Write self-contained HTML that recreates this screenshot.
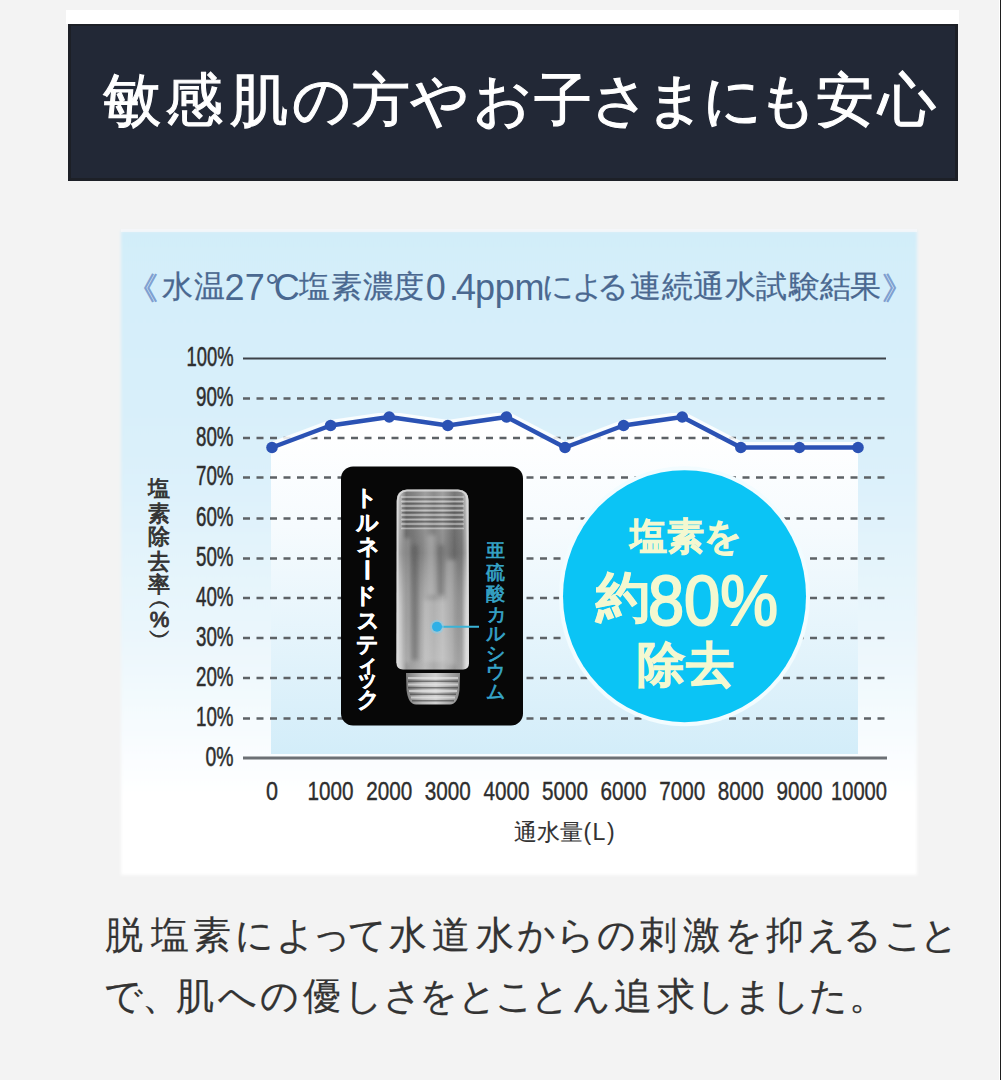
<!DOCTYPE html>
<html lang="ja">
<head>
<meta charset="utf-8">
<style>
html,body{margin:0;padding:0;}
body{width:1001px;height:1080px;overflow:hidden;background:#f3f3f3;position:relative;font-family:"Liberation Sans",sans-serif;}
.abs{position:absolute;}
#edge{left:999px;top:0;width:1px;height:1080px;background:#fff;}
#edge2{left:1000px;top:0;width:1px;height:1080px;background:#1e1e1e;}
#strip{left:66px;top:10px;width:893px;height:14px;background:#fff;}
#banner{left:68px;top:24px;width:890px;height:157px;background:#222836;box-shadow:inset 3px 0 0 #1c1f26,inset -3px 0 0 #1c1f26,inset 0 -3px 0 #1d2027,inset 0 2px 0 #1d2027;}
.run{position:absolute;left:0;top:0;width:0;height:0;}
.run span{position:absolute;white-space:nowrap;}
</style>
</head>
<body>
<div class="abs" id="edge"></div>
<div class="abs" id="edge2"></div>
<div class="abs" id="strip"></div>
<div class="abs" id="banner"></div>
<div class="run" style="font-size:58px;line-height:58px;color:#ffffff;font-weight:normal;-webkit-text-stroke:1.1px #ffffff;"><span style="left:102.7px;top:70.7px">敏</span><span style="left:165.4px;top:70.7px">感</span><span style="left:230.2px;top:70.7px">肌</span><span style="left:291.9px;top:70.7px">の</span><span style="left:351.6px;top:70.7px">方</span><span style="left:410.1px;top:70.7px">や</span><span style="left:472.9px;top:70.7px">お</span><span style="left:533.8px;top:70.7px">子</span><span style="left:591.0px;top:70.7px">さ</span><span style="left:645.9px;top:70.7px">ま</span><span style="left:702.6px;top:70.7px">に</span><span style="left:758.3px;top:70.7px">も</span><span style="left:815.6px;top:70.7px">安</span><span style="left:877.6px;top:70.7px">心</span></div>

<svg class="abs" style="left:0;top:0" width="1001" height="1080" viewBox="0 0 1001 1080">
<defs>
<linearGradient id="gbg" x1="0" y1="229" x2="0" y2="875" gradientUnits="userSpaceOnUse">
<stop offset="0" stop-color="#d2edf9"/>
<stop offset="0.35" stop-color="#daf0fa"/>
<stop offset="0.62" stop-color="#eaf6fc"/>
<stop offset="0.88" stop-color="#ffffff"/>
<stop offset="1" stop-color="#ffffff"/>
</linearGradient>
<linearGradient id="gplot" x1="0" y1="430" x2="0" y2="753" gradientUnits="userSpaceOnUse">
<stop offset="0" stop-color="#ffffff"/>
<stop offset="0.3" stop-color="#f6fbfe"/>
<stop offset="1" stop-color="#d3edf9"/>
</linearGradient>
<linearGradient id="gcyl" x1="396" y1="0" x2="469" y2="0" gradientUnits="userSpaceOnUse">
<stop offset="0" stop-color="#dadada"/>
<stop offset="0.07" stop-color="#bdbdbd"/>
<stop offset="0.14" stop-color="#7e7e7e"/>
<stop offset="0.26" stop-color="#8e8e8e"/>
<stop offset="0.4" stop-color="#a8a8a8"/>
<stop offset="0.52" stop-color="#959595"/>
<stop offset="0.64" stop-color="#aaaaaa"/>
<stop offset="0.8" stop-color="#7e7e7e"/>
<stop offset="0.9" stop-color="#909090"/>
<stop offset="0.96" stop-color="#d0d0d0"/>
<stop offset="1" stop-color="#e2e2e2"/>
</linearGradient>
<linearGradient id="gcylv" x1="0" y1="490" x2="0" y2="670" gradientUnits="userSpaceOnUse">
<stop offset="0" stop-color="#000" stop-opacity="0.05"/>
<stop offset="0.35" stop-color="#000" stop-opacity="0.18"/>
<stop offset="0.7" stop-color="#fff" stop-opacity="0.08"/>
<stop offset="1" stop-color="#fff" stop-opacity="0.22"/>
</linearGradient>
<linearGradient id="gcon" x1="406" y1="0" x2="460" y2="0" gradientUnits="userSpaceOnUse">
<stop offset="0" stop-color="#7a7a7a"/>
<stop offset="0.3" stop-color="#b8b8b8"/>
<stop offset="0.55" stop-color="#d0d0d0"/>
<stop offset="1" stop-color="#8a8a8a"/>
</linearGradient>
<filter id="soft" x="-10%" y="-10%" width="120%" height="120%"><feGaussianBlur stdDeviation="0.7"/></filter>
<filter id="soft2" x="-2%" y="-2%" width="104%" height="104%"><feGaussianBlur stdDeviation="1.6"/></filter>
<filter id="soft3" x="-50%" y="-10%" width="200%" height="120%"><feGaussianBlur stdDeviation="2"/></filter>
</defs>
<!-- chart background -->
<rect x="121" y="231" width="796" height="644" fill="url(#gbg)" filter="url(#soft2)"/>
<rect x="121" y="229" width="796" height="3" fill="#f8f8fb" opacity="0.7"/>
<!-- plot area under curve -->
<polygon fill="url(#gplot)" points="272,447.5 330.6,425.5 389.2,417 447.8,425.5 506.4,417 565.0,447.5 623.6,425.5 682.2,417 740.8,447.5 799.4,447.5 858,447.5 858,754 271,754 271,447.5"/>
<!-- grid -->
<line x1="243" y1="358.5" x2="886" y2="358.5" stroke="#3d4248" stroke-width="2.2"/>
<g stroke="#5d6266" stroke-width="2.7" stroke-dasharray="7 6.5" filter="url(#soft)">
<line x1="243" y1="398.5" x2="886" y2="398.5"/>
<line x1="243" y1="438" x2="886" y2="438"/>
<line x1="243" y1="477.5" x2="886" y2="477.5"/>
<line x1="243" y1="518.5" x2="886" y2="518.5"/>
<line x1="243" y1="558.5" x2="886" y2="558.5"/>
<line x1="243" y1="598" x2="886" y2="598"/>
<line x1="243" y1="638" x2="886" y2="638"/>
<line x1="243" y1="678" x2="886" y2="678"/>
<line x1="243" y1="718.5" x2="886" y2="718.5"/>
</g>
<line x1="243" y1="758" x2="887" y2="758" stroke="#6c7075" stroke-width="3"/>
<!-- data line -->
<polyline fill="none" stroke="#ffffff" stroke-opacity="0.85" stroke-width="11" stroke-linejoin="round" filter="url(#soft)" points="272,447.5 330.6,425.5 389.2,417 447.8,425.5 506.4,417 565.0,447.5 623.6,425.5 682.2,417 740.8,447.5 799.4,447.5 858,447.5"/>
<polyline fill="none" stroke="#2b52b4" stroke-width="4.5" stroke-linejoin="round" points="272,447.5 330.6,425.5 389.2,417 447.8,425.5 506.4,417 565.0,447.5 623.6,425.5 682.2,417 740.8,447.5 799.4,447.5 858,447.5"/>
<g fill="#2b52b4"><circle cx="272.0" cy="447.5" r="5.8"/><circle cx="330.6" cy="425.5" r="5.8"/><circle cx="389.2" cy="417" r="5.8"/><circle cx="447.8" cy="425.5" r="5.8"/><circle cx="506.4" cy="417" r="5.8"/><circle cx="565.0" cy="447.5" r="5.8"/><circle cx="623.6" cy="425.5" r="5.8"/><circle cx="682.2" cy="417" r="5.8"/><circle cx="740.8" cy="447.5" r="5.8"/><circle cx="799.4" cy="447.5" r="5.8"/><circle cx="858.0" cy="447.5" r="5.8"/></g>
<!-- black box -->
<rect x="341" y="466.5" width="182" height="259" rx="12" ry="12" fill="#070707"/>
<!-- cylinder -->
<g filter="url(#soft)">
<path d="M397,500 Q397.5,490 407,489.5 L458,489.5 Q468,490 468.5,500 L469,663 Q469,669 463,669.5 L403,669.5 Q396.5,669 396.5,663 Z" fill="url(#gcyl)"/>
<path d="M397,500 Q397.5,490 407,489.5 L458,489.5 Q468,490 468.5,500 L469,663 Q469,669 463,669.5 L403,669.5 Q396.5,669 396.5,663 Z" fill="url(#gcylv)"/>
<g stroke="#e6e6e6" stroke-width="1.4" opacity="0.55">
<line x1="401" y1="497" x2="464" y2="497"/><line x1="401" y1="501.5" x2="464" y2="501.5"/><line x1="401" y1="506" x2="464" y2="506"/>
<line x1="401" y1="510.5" x2="464" y2="510.5"/><line x1="401" y1="515" x2="464" y2="515"/><line x1="401" y1="519.5" x2="464" y2="519.5"/>
<line x1="401" y1="524" x2="464" y2="524"/><line x1="401" y1="528.5" x2="464" y2="528.5"/>
</g>
<g stroke="#444" stroke-width="1.2" opacity="0.45">
<line x1="402" y1="499.2" x2="463" y2="499.2"/><line x1="402" y1="503.7" x2="463" y2="503.7"/><line x1="402" y1="508.2" x2="463" y2="508.2"/>
<line x1="402" y1="512.7" x2="463" y2="512.7"/><line x1="402" y1="517.2" x2="463" y2="517.2"/><line x1="402" y1="521.7" x2="463" y2="521.7"/>
<line x1="402" y1="526.2" x2="463" y2="526.2"/>
</g>
<g fill="#d8d8d8" opacity="0.35" filter="url(#soft3)">
<rect x="404" y="538" width="6" height="125"/><rect x="427" y="535" width="9" height="60"/><rect x="446" y="560" width="10" height="105"/><rect x="424" y="600" width="24" height="62"/>
</g>
<g fill="#4a4a4a" opacity="0.4" filter="url(#soft3)">
<rect x="412" y="545" width="6" height="115"/><rect x="438" y="545" width="6" height="50"/>
</g>
<path d="M397.5,663 L397.5,501 Q398,491 407,490.5 L458,490.5 Q467.5,491 467.5,501 L468,663" fill="none" stroke="#dcdcdc" stroke-width="2" opacity="0.85"/>
<path d="M406,673 L460,673 L459.5,690 Q458,704 450,704.5 L416,704.5 Q408,704 406.5,690 Z" fill="url(#gcon)"/>
<g stroke="#ececec" stroke-width="2" opacity="0.6">
<line x1="408" y1="678" x2="458" y2="678"/><line x1="408" y1="684.5" x2="458" y2="684.5"/><line x1="409" y1="691" x2="457" y2="691"/><line x1="411" y1="697.5" x2="455" y2="697.5"/>
</g>
<g stroke="#333" stroke-width="1.5" opacity="0.55">
<line x1="408" y1="681.2" x2="458" y2="681.2"/><line x1="408" y1="687.7" x2="458" y2="687.7"/><line x1="410" y1="694.2" x2="456" y2="694.2"/><line x1="412" y1="700.7" x2="454" y2="700.7"/>
</g>
</g>
<!-- callout -->
<line x1="437" y1="626.7" x2="479" y2="626.7" stroke="#3ab3d6" stroke-width="2"/>
<circle cx="437" cy="626.7" r="7" fill="#7fd0f0" opacity="0.5"/>
<circle cx="437" cy="626.7" r="5" fill="#2fb0e6"/>
<!-- big circle -->
<ellipse cx="684.5" cy="596.2" rx="125.5" ry="130" fill="#f2fcff" filter="url(#soft)"/>
<ellipse cx="684.5" cy="596.2" rx="121.5" ry="126" fill="#0bc4f5"/>
<!-- y labels -->
<g font-family="Liberation Sans, sans-serif" font-size="27" fill="#2e2e2e" stroke="#2e2e2e" stroke-width="0.5" text-anchor="end">
<text x="233.5" y="366.1" textLength="47" lengthAdjust="spacingAndGlyphs">100%</text>
<text x="233.5" y="406.1" textLength="37.5" lengthAdjust="spacingAndGlyphs">90%</text>
<text x="233.5" y="445.6" textLength="37.5" lengthAdjust="spacingAndGlyphs">80%</text>
<text x="233.5" y="485.1" textLength="37.5" lengthAdjust="spacingAndGlyphs">70%</text>
<text x="233.5" y="526.1" textLength="37.5" lengthAdjust="spacingAndGlyphs">60%</text>
<text x="233.5" y="566.1" textLength="37.5" lengthAdjust="spacingAndGlyphs">50%</text>
<text x="233.5" y="605.6" textLength="37.5" lengthAdjust="spacingAndGlyphs">40%</text>
<text x="233.5" y="645.6" textLength="37.5" lengthAdjust="spacingAndGlyphs">30%</text>
<text x="233.5" y="685.6" textLength="37.5" lengthAdjust="spacingAndGlyphs">20%</text>
<text x="233.5" y="726.1" textLength="37.5" lengthAdjust="spacingAndGlyphs">10%</text>
<text x="233.5" y="765.6" textLength="28" lengthAdjust="spacingAndGlyphs">0%</text>
</g>
<!-- x labels -->
<g font-family="Liberation Sans, sans-serif" font-size="25" fill="#2e2e2e" stroke="#2e2e2e" stroke-width="0.4" text-anchor="middle">
<text x="272" y="800" textLength="12" lengthAdjust="spacingAndGlyphs">0</text>
<text x="330.6" y="800" textLength="46" lengthAdjust="spacingAndGlyphs">1000</text>
<text x="389.2" y="800" textLength="46" lengthAdjust="spacingAndGlyphs">2000</text>
<text x="447.8" y="800" textLength="46" lengthAdjust="spacingAndGlyphs">3000</text>
<text x="506.4" y="800" textLength="46" lengthAdjust="spacingAndGlyphs">4000</text>
<text x="565" y="800" textLength="46" lengthAdjust="spacingAndGlyphs">5000</text>
<text x="623.6" y="800" textLength="46" lengthAdjust="spacingAndGlyphs">6000</text>
<text x="682.2" y="800" textLength="46" lengthAdjust="spacingAndGlyphs">7000</text>
<text x="740.8" y="800" textLength="46" lengthAdjust="spacingAndGlyphs">8000</text>
<text x="799.4" y="800" textLength="46" lengthAdjust="spacingAndGlyphs">9000</text>
<text x="859" y="800" textLength="56" lengthAdjust="spacingAndGlyphs">10000</text>
</g>
</svg>

<div class="run" style="font-size:31px;line-height:31px;color:#4a6890;font-weight:normal;-webkit-text-stroke:0.25px #4a6890;"><span style="left:161.6px;top:270.7px">水</span><span style="left:194.2px;top:270.7px">温</span><span style="left:298.5px;top:270.7px">塩</span><span style="left:331.1px;top:270.7px">素</span><span style="left:362.9px;top:270.7px">濃</span><span style="left:393.2px;top:270.7px">度</span><span style="left:541.7px;top:270.7px">に</span><span style="left:571.5px;top:270.7px">よ</span><span style="left:596.6px;top:270.7px">る</span><span style="left:630.2px;top:270.7px">連</span><span style="left:661.8px;top:270.7px">続</span><span style="left:692.6px;top:270.7px">通</span><span style="left:724.8px;top:270.7px">水</span><span style="left:756.4px;top:270.7px">試</span><span style="left:789.1px;top:270.7px">験</span><span style="left:819.6px;top:270.7px">結</span><span style="left:849.5px;top:270.7px">果</span></div>
<div class="run" style="font-size:31px;line-height:31px;color:#7f9fd0;font-weight:normal;-webkit-text-stroke:0.9px #7f9fd0;"><span style="left:127.4px;top:272.5px">《</span><span style="left:881.5px;top:272.5px">》</span></div>
<div class="run" style="font-size:36px;line-height:36px;color:#4a6890;font-weight:normal;"><span style="left:224.4px;top:269.5px">2</span><span style="left:244.8px;top:269.5px">7</span><span style="left:264.9px;top:269.5px">°</span><span style="left:273.8px;top:269.5px">C</span><span style="left:425.8px;top:269.5px">0</span><span style="left:448.9px;top:269.5px">.</span><span style="left:456.1px;top:269.5px">4</span><span style="left:475.0px;top:269.5px">p</span><span style="left:494.8px;top:269.5px">p</span><span style="left:514.4px;top:269.5px">m</span></div>
<div class="run" style="font-size:22px;line-height:22px;color:#333333;font-weight:normal;-webkit-text-stroke:0.9px #333333;"><span style="left:148.3px;top:478.1px;width:22px;height:22px">塩</span><span style="left:148.3px;top:503.2px;width:22px;height:22px">素</span><span style="left:147.8px;top:525.9px;width:22px;height:22px">除</span><span style="left:148.3px;top:550.5px;width:22px;height:22px">去</span><span style="left:148.3px;top:574.2px;width:22px;height:22px">率</span><span style="left:149.3px;top:589.6px;width:22px;height:22px">︵</span><span style="left:149.8px;top:608.5px;width:22px;height:22px">%</span><span style="left:149.3px;top:625.6px;width:22px;height:22px">︶</span></div>
<div class="run" style="font-size:22px;line-height:22px;color:#ffffff;font-weight:bold;-webkit-text-stroke:0.5px #ffffff;"><span style="left:354.7px;top:486.9px;width:22px;height:22px">ト</span><span style="left:355.7px;top:511.5px;width:22px;height:22px">ル</span><span style="left:356.7px;top:536.4px;width:22px;height:22px">ネ</span><span style="left:354.7px;top:559.0px;width:22px;height:22px;transform:rotate(90deg);transform-origin:11.0px 11.0px">ー</span><span style="left:353.7px;top:585.2px;width:22px;height:22px">ド</span><span style="left:356.7px;top:609.5px;width:22px;height:22px">ス</span><span style="left:356.2px;top:634.1px;width:22px;height:22px">テ</span><span style="left:355.7px;top:654.0px;width:22px;height:22px">ィ</span><span style="left:356.2px;top:668.2px;width:22px;height:22px">ッ</span><span style="left:357.2px;top:689.0px;width:22px;height:22px">ク</span></div>
<div class="run" style="font-size:19px;line-height:19px;color:#36a4c8;font-weight:normal;-webkit-text-stroke:0.7px #36a4c8;"><span style="left:486.3px;top:541.3px;width:19px;height:19px">亜</span><span style="left:486.3px;top:562.9px;width:19px;height:19px">硫</span><span style="left:486.3px;top:583.5px;width:19px;height:19px">酸</span><span style="left:486.8px;top:605.2px;width:19px;height:19px">カ</span><span style="left:486.3px;top:624.4px;width:19px;height:19px">ル</span><span style="left:485.8px;top:643.7px;width:19px;height:19px">シ</span><span style="left:486.3px;top:662.0px;width:19px;height:19px">ウ</span><span style="left:486.3px;top:681.6px;width:19px;height:19px">ム</span></div>
<div class="run" style="font-size:23px;line-height:23px;color:#333333;font-weight:normal;-webkit-text-stroke:0.1px #333333;"><span style="left:513.8px;top:821.0px">通</span><span style="left:537.2px;top:821.0px">水</span><span style="left:559.6px;top:821.0px">量</span><span style="left:583.6px;top:821.0px">(</span><span style="left:592.4px;top:821.0px">L</span><span style="left:607.0px;top:821.0px">)</span></div>
<div class="run" style="font-size:37px;line-height:37px;color:#f4f8d0;font-weight:bold;-webkit-text-stroke:0.8px #f4f8d0;"><span style="left:629.5px;top:518.0px">塩</span><span style="left:666.5px;top:518.0px">素</span><span style="left:703.5px;top:518.0px">を</span></div>
<div class="run" style="font-size:54px;line-height:54px;color:#f4f8d0;font-weight:bold;-webkit-text-stroke:0.8px #f4f8d0;"><span style="left:596.0px;top:570.0px">約</span></div>
<div class="run" style="font-size:48px;line-height:48px;color:#f4f8d0;font-weight:bold;-webkit-text-stroke:0.8px #f4f8d0;"><span style="left:636.7px;top:641.0px">除</span><span style="left:686.4px;top:641.0px">去</span></div>
<svg class="abs" style="left:0;top:0" width="1001" height="1080" viewBox="0 0 1001 1080">
<text x="648" y="625" font-family="Liberation Sans, sans-serif" font-weight="normal" font-size="70" fill="#f4f8d0" stroke="#f4f8d0" stroke-width="2" textLength="130" lengthAdjust="spacingAndGlyphs">80%</text>
</svg>
<div class="run" style="font-size:38px;line-height:38px;color:#333333;font-weight:normal;-webkit-text-stroke:0.2px #333333;"><span style="left:105.1px;top:915.8px">脱</span><span style="left:151.1px;top:915.8px">塩</span><span style="left:193.4px;top:915.8px">素</span><span style="left:234.8px;top:915.8px">に</span><span style="left:276.0px;top:915.8px">よ</span><span style="left:311.9px;top:915.8px">っ</span><span style="left:348.1px;top:915.8px">て</span><span style="left:388.5px;top:915.8px">水</span><span style="left:432.0px;top:915.8px">道</span><span style="left:475.8px;top:915.8px">水</span><span style="left:516.8px;top:915.8px">か</span><span style="left:555.7px;top:915.8px">ら</span><span style="left:597.1px;top:915.8px">の</span><span style="left:638.8px;top:915.8px">刺</span><span style="left:683.4px;top:915.8px">激</span><span style="left:723.8px;top:915.8px">を</span><span style="left:766.0px;top:915.8px">抑</span><span style="left:807.0px;top:915.8px">え</span><span style="left:843.2px;top:915.8px">る</span><span style="left:883.5px;top:915.8px">こ</span><span style="left:919.7px;top:915.8px">と</span></div>
<div class="run" style="font-size:38px;line-height:38px;color:#333333;font-weight:normal;-webkit-text-stroke:0.2px #333333;"><span style="left:104.1px;top:976.8px">で</span><span style="left:142.0px;top:976.8px">、</span><span style="left:176.1px;top:976.8px">肌</span><span style="left:217.6px;top:976.8px">へ</span><span style="left:259.7px;top:976.8px">の</span><span style="left:303.1px;top:976.8px">優</span><span style="left:343.5px;top:976.8px">し</span><span style="left:382.6px;top:976.8px">さ</span><span style="left:418.9px;top:976.8px">を</span><span style="left:457.6px;top:976.8px">と</span><span style="left:494.6px;top:976.8px">こ</span><span style="left:531.0px;top:976.8px">と</span><span style="left:571.5px;top:976.8px">ん</span><span style="left:613.7px;top:976.8px">追</span><span style="left:656.5px;top:976.8px">求</span><span style="left:696.2px;top:976.8px">し</span><span style="left:734.0px;top:976.8px">ま</span><span style="left:770.7px;top:976.8px">し</span><span style="left:809.2px;top:976.8px">た</span><span style="left:849.0px;top:976.8px">。</span></div>
</body>
</html>
